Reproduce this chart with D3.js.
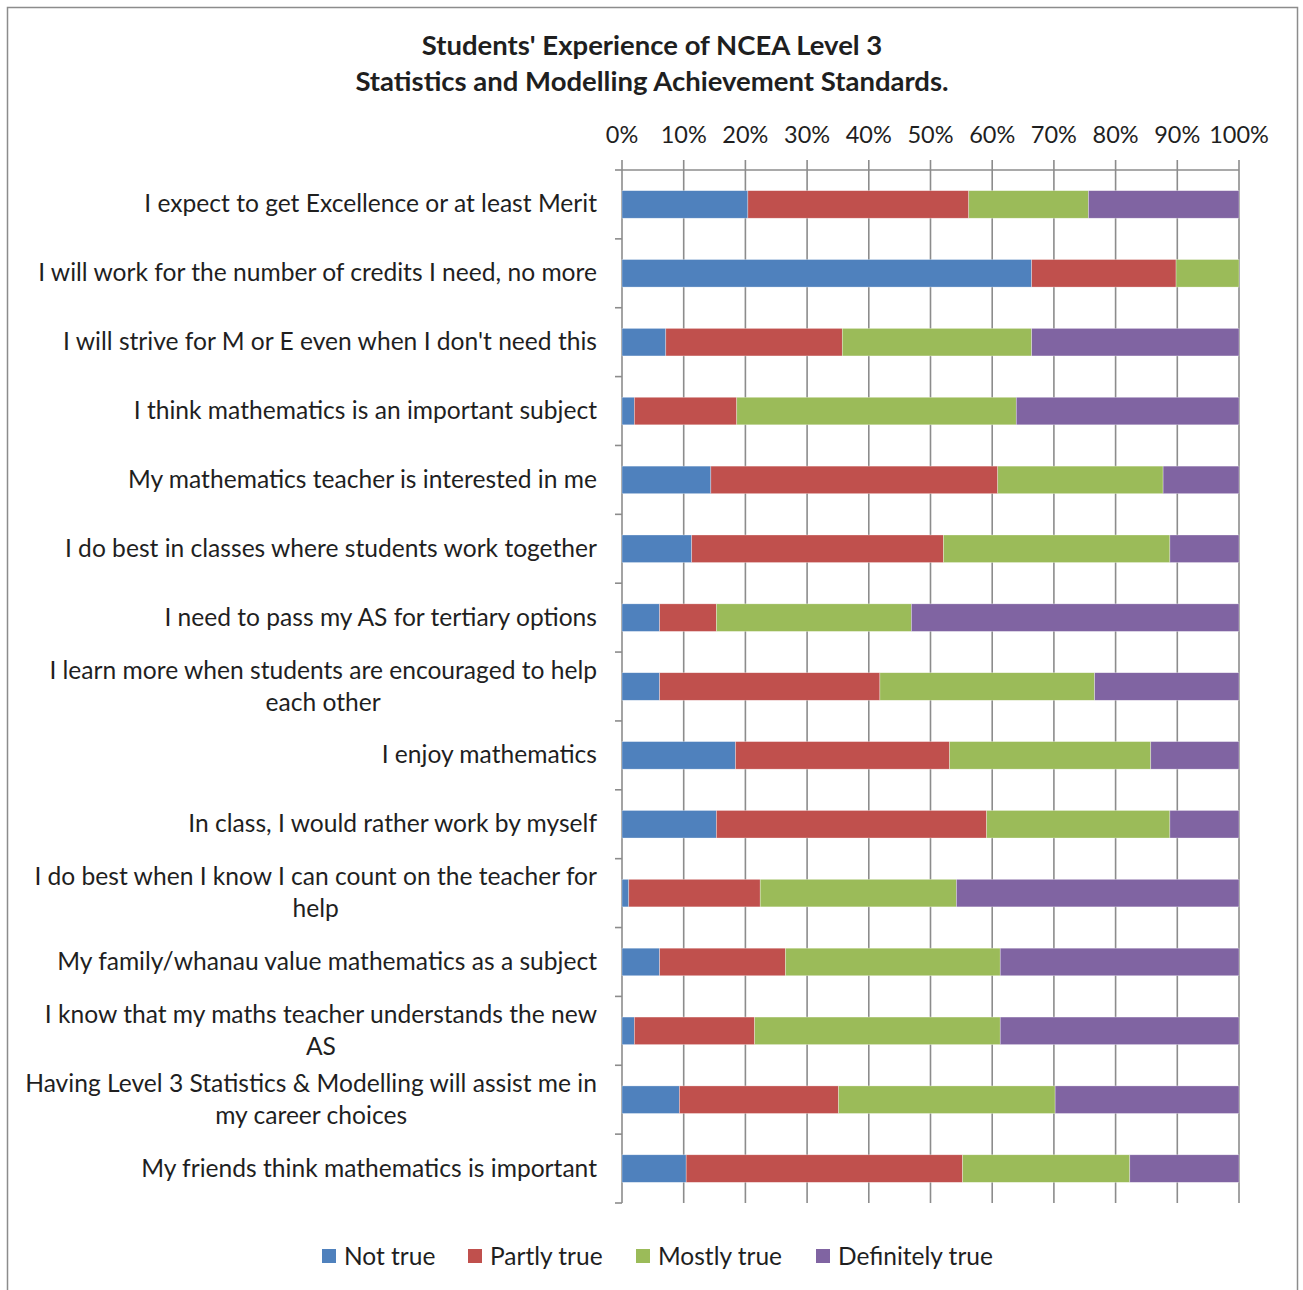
<!DOCTYPE html>
<html>
<head>
<meta charset="utf-8">
<script src="https://cdn.jsdelivr.net/npm/d3@7"></script>
<style>
  body { margin: 0; background: #fff; }
  svg text { font-family: Lato, "Open Sans", sans-serif; fill: #1f1f1f; }
</style>
</head>
<body>
<div id="chart"></div>
<script>
// statements, top to bottom
const statements = [
  "I expect to get Excellence or at least Merit",
  "I will work for the number of credits I need, no more",
  "I will strive for M or E even when I don't need this",
  "I think mathematics is an important subject",
  "My mathematics teacher is interested in me",
  "I do best in classes where students work together",
  "I need to pass my AS for tertiary options",
  "I learn more when students are encouraged to help|each other",
  "I enjoy mathematics",
  "In class, I would rather work by myself",
  "I do best when I know I can count on the teacher for|help",
  "My family/whanau value mathematics as a subject",
  "I know that my maths teacher understands the new|AS",
  "Having Level 3 Statistics & Modelling will assist me in|my career choices",
  "My friends think mathematics is important"
];

const seriesNames = ["Not true", "Partly true", "Mostly true", "Definitely true"];
const seriesColors = ["#4f81bd", "#c0504d", "#9bbb59", "#8064a2"];

// percentages per statement, same order as statements
const notTrue        = [20.4, 66.4,  7.1,  2.0, 14.4, 11.3,  6.1,  6.1, 18.4, 15.3,  1.1,  6.1,  2.0,  9.3, 10.4];
const partlyTrue     = [35.8, 23.4, 28.6, 16.6, 46.5, 40.8,  9.2, 35.7, 34.7, 43.8, 21.3, 20.4, 19.5, 25.8, 44.8];
const mostlyTrue     = [19.4, 10.2, 30.7, 45.3, 26.8, 36.7, 31.6, 34.8, 32.6, 29.7, 31.8, 34.8, 39.8, 35.1, 27.1];
const definitelyTrue = [24.4,  0.0, 33.6, 36.1, 12.3, 11.2, 53.1, 23.4, 14.3, 11.2, 45.8, 38.7, 38.7, 29.8, 17.7];

const xTicks = [0, 10, 20, 30, 40, 50, 60, 70, 80, 90, 100];

const width = 1303, height = 1290;
const margin = { top: 170, right: 64, bottom: 87, left: 622 };
const labelSize = 24.6;

const rows = statements.map((s, i) => ({
  label: s,
  "Not true": notTrue[i],
  "Partly true": partlyTrue[i],
  "Mostly true": mostlyTrue[i],
  "Definitely true": definitelyTrue[i]
}));

const svg = d3.select('#chart')
  .append('svg')
  .attr('width', width)
  .attr('height', height);

// outer frame
svg.append('rect')
  .attr('x', 7.5).attr('y', 7.5)
  .attr('width', 1290).attr('height', 1300)
  .attr('fill', 'none')
  .attr('stroke', '#8c8c8c')
  .attr('stroke-width', 1.5);

// title
const title = svg.append('text')
  .attr('text-anchor', 'middle')
  .style('font-weight', 'bold')
  .style('font-size', '27.5px');
title.append('tspan').attr('x', 652).attr('y', 55).text("Students' Experience of NCEA Level 3");
title.append('tspan').attr('x', 652).attr('y', 91).text("Statistics and Modelling Achievement Standards.");

const x = d3.scaleLinear().domain([0, 100]).range([margin.left, width - margin.right]);
const y = d3.scaleBand().domain(statements).range([margin.top, height - margin.bottom]).paddingInner(0.6).paddingOuter(0.3);
const yEdge = d3.scaleLinear().domain([0, statements.length]).range([margin.top, height - margin.bottom]);

// gridlines + top tick marks
svg.append('g')
  .selectAll('line')
  .data(xTicks)
  .join('line')
  .attr('x1', d => x(d)).attr('x2', d => x(d))
  .attr('y1', margin.top - 10).attr('y2', height - margin.bottom)
  .attr('stroke', '#8c8c8c')
  .attr('stroke-width', 1.6);

// top axis line
svg.append('line')
  .attr('x1', x(0)).attr('x2', x(100))
  .attr('y1', margin.top).attr('y2', margin.top)
  .attr('stroke', '#8c8c8c').attr('stroke-width', 1.6);

// top tick labels
svg.append('g')
  .selectAll('text')
  .data(xTicks)
  .join('text')
  .attr('x', d => x(d))
  .attr('y', 143)
  .attr('text-anchor', 'middle')
  .style('font-size', '23.5px')
  .text(d => d + '%');

// category tick marks on the left
svg.append('g')
  .selectAll('line')
  .data(d3.range(statements.length + 1))
  .join('line')
  .attr('x1', x(0) - 7).attr('x2', x(0))
  .attr('y1', d => yEdge(d)).attr('y2', d => yEdge(d))
  .attr('stroke', '#8c8c8c').attr('stroke-width', 1.6);

// stacked bars
const stack = d3.stack().keys(seriesNames);
const layers = stack(rows);

svg.append('g')
  .selectAll('g')
  .data(layers)
  .join('g')
  .attr('fill', (d, i) => seriesColors[i])
  .selectAll('rect')
  .data(d => d)
  .join('rect')
  .attr('x', d => x(d[0]))
  .attr('width', d => Math.max(0, x(d[1]) - x(d[0])))
  .attr('y', d => y(d.data.label))
  .attr('height', y.bandwidth())
  .attr('stroke', 'rgba(255,255,255,0.5)')
  .attr('stroke-width', 0.6);

// category labels (multi-line ones centered per line)
const labelRight = 597;
const labels = svg.append('g');
statements.forEach(s => {
  const lines = s.split('|');
  const cy = y(s) + y.bandwidth() / 2;
  const t = labels.append('text')
    .style('font-size', labelSize + 'px');
  if (lines.length === 1) {
    t.attr('x', labelRight).attr('y', cy + 8).attr('text-anchor', 'end').text(s);
  } else {
    // measure first line to place the centered block
    const probe = labels.append('text').style('font-size', labelSize + 'px').text(lines[0]);
    const w = probe.node().getComputedTextLength();
    probe.remove();
    const cx = labelRight - w / 2;
    t.attr('text-anchor', 'middle');
    lines.forEach((ln, k) => {
      t.append('tspan')
        .attr('x', cx)
        .attr('y', cy + 8 + (k - (lines.length - 1) / 2) * 32)
        .text(ln);
    });
  }
});

// legend
const legendX = [322, 468, 636, 816];
const legend = svg.append('g')
  .selectAll('g')
  .data(seriesNames)
  .join('g')
  .attr('transform', (d, i) => `translate(${legendX[i]},1249)`);
legend.append('rect')
  .attr('width', 14).attr('height', 14)
  .attr('fill', (d, i) => seriesColors[i]);
legend.append('text')
  .attr('x', 22).attr('y', 15.5)
  .style('font-size', '24.5px')
  .text(d => d);
</script>
</body>
</html>
